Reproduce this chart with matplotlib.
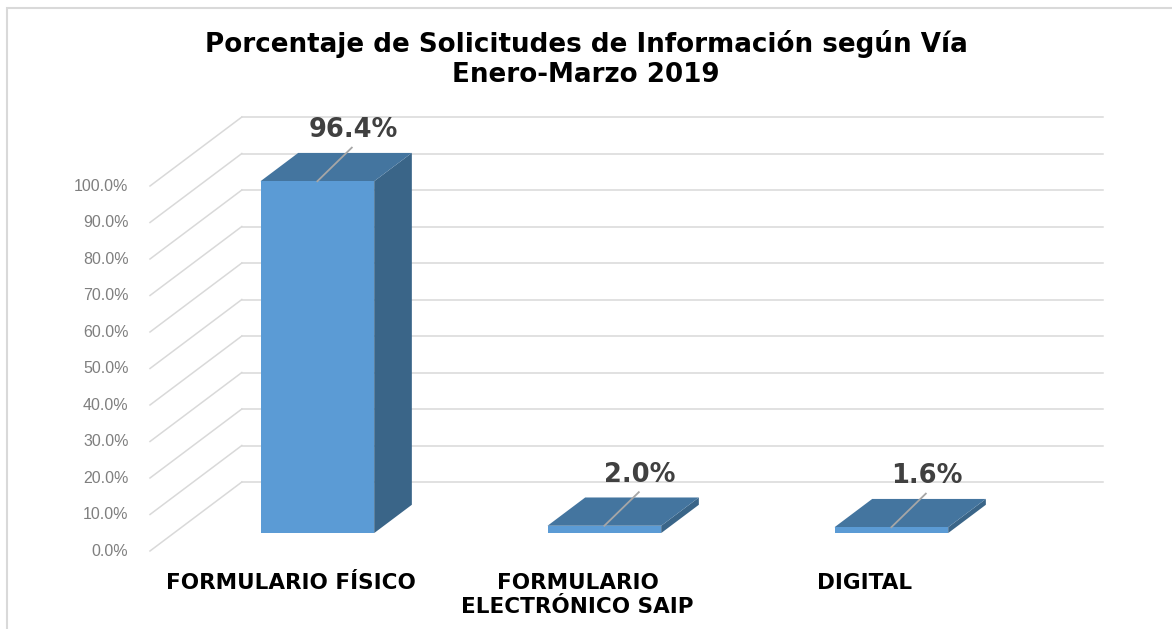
import matplotlib
matplotlib.use('Agg')
import matplotlib.pyplot as plt
from matplotlib.patches import Polygon, Rectangle

categories = ['FORMULARIO FÍSICO', 'FORMULARIO\nELECTRÓNICO SAIP', 'DIGITAL']
values = [96.4, 2.0, 1.6]
ticks = [0, 10, 20, 30, 40, 50, 60, 70, 80, 90, 100]
tick_labels = ['0.0%', '10.0%', '20.0%', '30.0%', '40.0%', '50.0%', '60.0%',
               '70.0%', '80.0%', '90.0%', '100.0%']
title = 'Porcentaje de Solicitudes de Información según Vía\nEnero-Marzo 2019'

# 3d look: depth offset of the back wall in data units
DX, DY = 0.32, 18.9
Z0, Z1 = 0.26, 0.67   # bar front/back as fraction of depth
HALF = 0.198          # half bar width

fig = plt.figure(figsize=(11.72, 6.29), dpi=100)
ax = fig.add_axes([0, 0, 1, 1])
ax.set_xlim(-1.0226, 3.061)
ax.set_ylim(-21.37, 150.96)
ax.axis('off')

grid_c = '#d9d9d9'
for t, lab in zip(ticks, tick_labels):
    ax.plot([-0.5, -0.5 + DX], [t, t + DY], color=grid_c, lw=1.1, zorder=1)
    ax.plot([-0.5 + DX, 2.5 + DX], [t + DY, t + DY], color=grid_c, lw=1.1, zorder=1)
    ax.text(-0.575, t, lab, ha='right', va='center', fontsize=11.5,
            family='Liberation Sans', color='#7f7f7f')

front_c, top_c, side_c = '#5b9bd5', '#44759f', '#3a6588'
for i, v in enumerate(values):
    x0 = i + Z0 * DX - HALF
    x1 = i + Z0 * DX + HALF
    y0 = Z0 * DY
    dx = (Z1 - Z0) * DX
    dy = (Z1 - Z0) * DY
    side = [(x1, y0), (x1 + dx, y0 + dy), (x1 + dx, y0 + dy + v), (x1, y0 + v)]
    top = [(x0, y0 + v), (x0 + dx, y0 + dy + v), (x1 + dx, y0 + dy + v), (x1, y0 + v)]
    front = [(x0, y0), (x1, y0), (x1, y0 + v), (x0, y0 + v)]
    ax.add_patch(Polygon(side, closed=True, fc=side_c, ec='none', zorder=3))
    ax.add_patch(Polygon(top, closed=True, fc=top_c, ec='none', zorder=3))
    ax.add_patch(Polygon(front, closed=True, fc=front_c, ec='none', zorder=4))
    cx = (x0 + x1) / 2
    ax.plot([cx, cx + 0.12], [y0 + v, y0 + v + 9.2], color='#a6a6a6', lw=1.3, zorder=5)
    ax.text(cx + 0.125, y0 + v + 14, f'{v:.1f}%', ha='center', va='center',
            fontsize=18.5, fontweight='bold', color='#404040', zorder=6)

for i, c in enumerate(categories):
    ax.text(i - 0.01, -5.9, c, ha='center', va='top', fontsize=15.5,
            fontweight='bold', color='black', linespacing=1.3)

fig.text(0.5, 0.906, title, ha='center', va='center', fontsize=18.8,
         fontweight='bold', color='black', linespacing=1.2)

fig.add_artist(Rectangle((7 / 1172, -0.1), 1.2, 1.1 - 8 / 629, fill=False,
                         ec='#d9d9d9', lw=1.5, transform=fig.transFigure))

fig.savefig('out.png', dpi=100)
